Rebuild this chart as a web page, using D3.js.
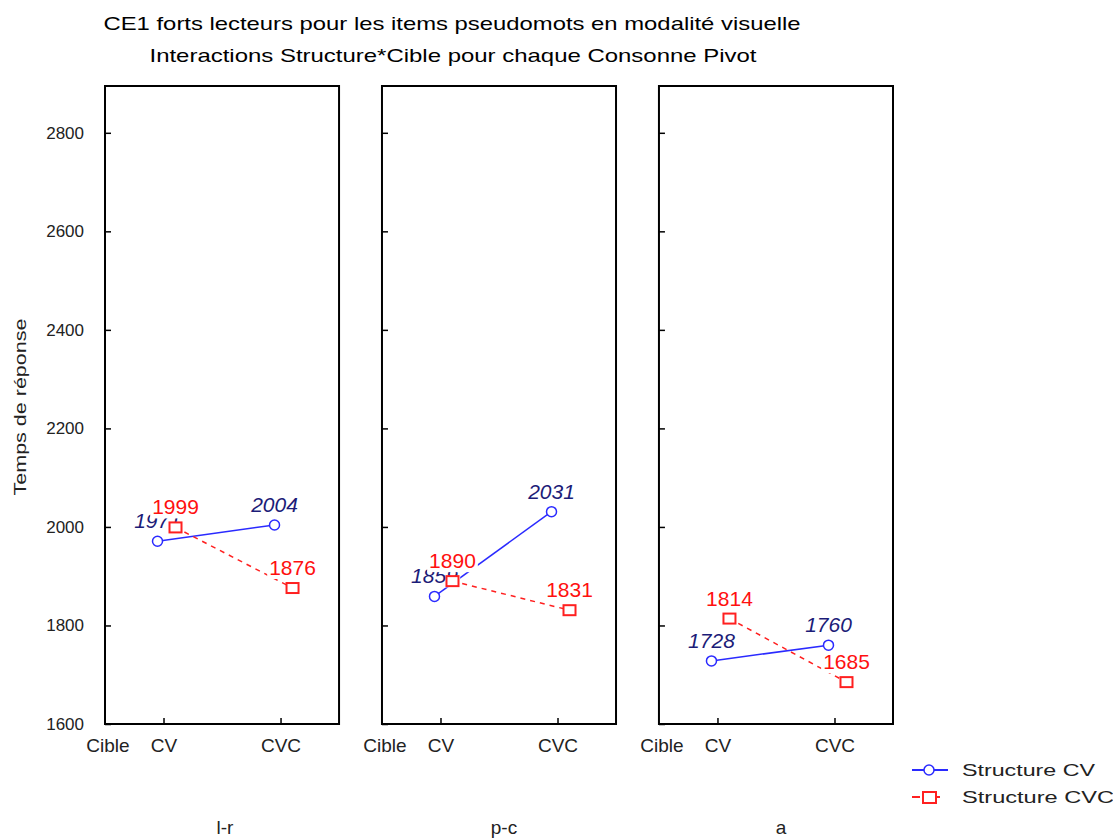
<!DOCTYPE html>
<head>
    <meta charset="utf-8">
    <script src="https://cdn.jsdelivr.net/npm/d3@7"></script>
    <style type="text/css">
        body { margin: 0; background: #fff; }
        svg { display: block; font-family: "Liberation Sans", Arial, sans-serif; }
        .frame { fill: none; stroke: #000; stroke-width: 2px; }
        .tick line { stroke: #000; stroke-width: 1.5px; }
        .tick text { fill: #222; }
    </style>
</head>
<body>
    <div id="chart"></div>
</body>
</html>

<script type="text/javascript">
    // data
    var pivots = ["l-r", "p-c", "a"];
    var cibles = ["CV", "CVC"];
    var structCV = [[1971, 2004], [1859, 2031], [1728, 1760]];
    var structCVC = [[1999, 1876], [1890, 1831], [1814, 1685]];
    var yTicks = [1600, 1800, 2000, 2200, 2400, 2600, 2800];

    var width = 1113, height = 838;
    var plotTop = 86, plotBottom = 724;

    var svg = d3.select('#chart').append("svg")
        .attr("width", width)
        .attr("height", height);

    // title
    svg.append("text")
        .attr("x", 452).attr("y", 30)
        .attr("text-anchor", "middle")
        .attr("font-size", "19px")
        .attr("textLength", 697).attr("lengthAdjust", "spacingAndGlyphs")
        .text("CE1 forts lecteurs pour les items pseudomots en modalité visuelle");
    svg.append("text")
        .attr("x", 453).attr("y", 62)
        .attr("text-anchor", "middle")
        .attr("font-size", "19px")
        .attr("textLength", 607).attr("lengthAdjust", "spacingAndGlyphs")
        .text("Interactions Structure*Cible pour chaque Consonne Pivot");

    // y title
    svg.append("text")
        .attr("transform", "translate(26,407) rotate(-90)")
        .attr("text-anchor", "middle")
        .attr("font-size", "17px")
        .attr("fill", "#222")
        .attr("textLength", 177).attr("lengthAdjust", "spacingAndGlyphs")
        .text("Temps de réponse");

    var panelX = d3.scaleBand()
        .domain(pivots)
        .range([105, 893])
        .paddingInner(0.155)
        .paddingOuter(0);
    var pw = panelX.bandwidth();

    var y = d3.scaleLinear()
        .domain([1600, 2895])
        .range([plotBottom, plotTop]);

    var x = d3.scalePoint()
        .domain(cibles)
        .range([0, pw])
        .padding(0.5);

    var series = [
        { name: "Structure CV", values: structCV, color: "#2a2aff", text: "#1c1c78", dx: -6, dash: null, italic: true },
        { name: "Structure CVC", values: structCVC, color: "#ff2020", text: "#ff1010", dx: 12, dash: "5,5", italic: false }
    ];

    pivots.forEach(function(p, i) {
        var g = svg.append("g")
            .attr("transform", "translate(" + panelX(p) + ",0)");

        g.append("clipPath").attr("id", "clip" + i)
            .append("rect").attr("x", 0).attr("y", plotTop).attr("width", pw).attr("height", plotBottom - plotTop);

        // y axis (ticks inside)
        var ya = g.append("g")
            .call(d3.axisLeft(y).tickValues(yTicks).tickSize(-6).tickPadding(21)
                .tickFormat(i === 0 ? d3.format("d") : ""));
        ya.select(".domain").remove();
        ya.selectAll("text").attr("font-size", "17px");

        // x axis
        var xa = g.append("g")
            .attr("transform", "translate(0," + plotBottom + ")")
            .call(d3.axisBottom(x).tickSize(-6).tickPadding(15));
        xa.select(".domain").remove();
        xa.selectAll("text").attr("font-size", "19px");
        xa.append("text")
            .attr("x", 3).attr("y", 15).attr("dy", "0.71em")
            .attr("text-anchor", "middle")
            .attr("font-size", "19px")
            .attr("fill", "#222")
            .text("Cible");

        var plot = g.append("g").attr("clip-path", "url(#clip" + i + ")");

        series.forEach(function(s) {
            var pts = cibles.map(function(c, j) {
                return { x: x(c) + s.dx, y: y(s.values[i][j]), v: s.values[i][j] };
            });

            plot.append("path")
                .datum(pts)
                .attr("d", d3.line().x(function(d) { return d.x; }).y(function(d) { return d.y; }))
                .attr("fill", "none")
                .attr("stroke", s.color)
                .attr("stroke-width", 1.5)
                .attr("stroke-dasharray", s.dash);

            if (s.dash) {
                plot.selectAll(null).data(pts).enter().append("rect")
                    .attr("x", function(d) { return d.x - 6; })
                    .attr("y", function(d) { return d.y - 5; })
                    .attr("width", 12).attr("height", 10)
                    .attr("fill", "#fff").attr("stroke", s.color).attr("stroke-width", 2);
            } else {
                plot.selectAll(null).data(pts).enter().append("circle")
                    .attr("cx", function(d) { return d.x; })
                    .attr("cy", function(d) { return d.y; })
                    .attr("r", 5)
                    .attr("fill", "#fff").attr("stroke", s.color).attr("stroke-width", 1.5);
            }

            // value labels on white boxes
            pts.forEach(function(d) {
                var lg = plot.append("g");
                var box = lg.append("rect").attr("fill", "#fff");
                var t = lg.append("text")
                    .attr("x", d.x).attr("y", d.y - 13)
                    .attr("text-anchor", "middle")
                    .attr("font-size", "21px")
                    .attr("font-style", s.italic ? "italic" : "normal")
                    .attr("fill", s.text)
                    .text(d.v);
                var b = t.node().getBBox();
                box.attr("x", b.x - 2).attr("y", b.y + 2)
                    .attr("width", b.width + 4).attr("height", b.height - 2);
            });
        });

        g.append("rect")
            .attr("class", "frame")
            .attr("x", 0).attr("y", plotTop)
            .attr("width", pw).attr("height", plotBottom - plotTop);

        // pivot label
        svg.append("text")
            .attr("x", panelX(p) + pw / 2 + (i === 0 ? 3 : 5))
            .attr("y", 834)
            .attr("text-anchor", "middle")
            .attr("font-size", "19px")
            .attr("fill", "#222")
            .text(p);
    });

    // legend
    var legend = svg.append("g").attr("transform", "translate(912,770)");
    series.forEach(function(s, k) {
        var row = legend.append("g").attr("transform", "translate(0," + (k * 27) + ")");
        row.append("line")
            .attr("x1", 0).attr("x2", 36)
            .attr("stroke", s.color).attr("stroke-width", 2)
            .attr("stroke-dasharray", s.dash ? "8,12" : null);
        if (s.dash) {
            row.append("rect").attr("x", 11).attr("y", -5).attr("width", 13).attr("height", 11)
                .attr("fill", "#fff").attr("stroke", s.color).attr("stroke-width", 2);
        } else {
            row.append("circle").attr("cx", 17).attr("cy", 0).attr("r", 5)
                .attr("fill", "#fff").attr("stroke", s.color).attr("stroke-width", 1.5);
        }
        row.append("text")
            .attr("x", 50).attr("y", 6)
            .attr("font-size", "17px")
            .attr("fill", "#222")
            .attr("textLength", k === 0 ? 133 : 152).attr("lengthAdjust", "spacingAndGlyphs")
            .text(s.name);
    });
</script>
